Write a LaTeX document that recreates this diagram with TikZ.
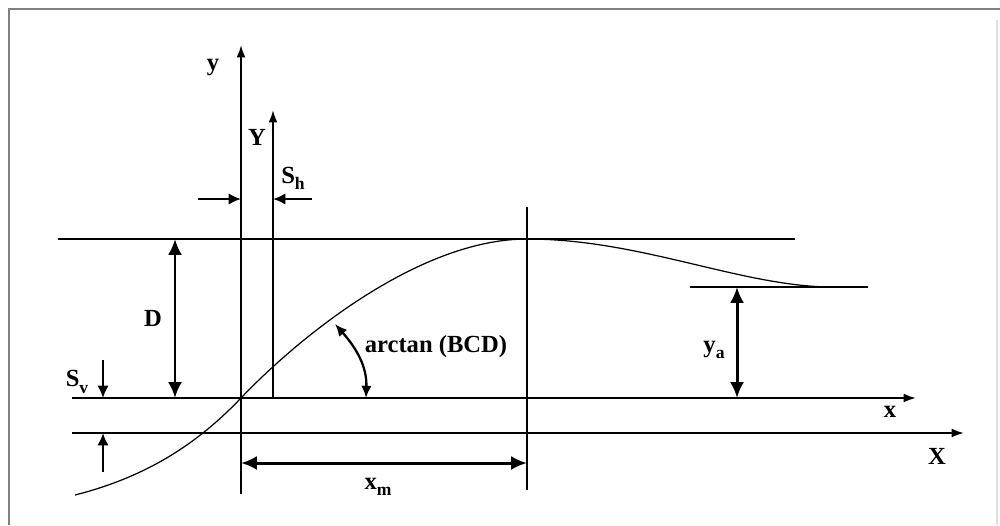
\documentclass[tikz,border=0pt]{standalone}
\usepackage{fontspec}
\setmainfont{Liberation Serif}
\usetikzlibrary{arrows.meta}
\newcommand{\lowsub}[1]{\raisebox{-0.55ex}{\fontsize{10}{12}\selectfont #1}}
\tikzset{
  >={Latex[length=7,width=5]},
  % assi e linee
  axis/.style={line width=1.1pt,->},
  guide/.style={line width=0.8pt},
  % quote
  dim/.style={line width=1.7pt,{Latex[length=9,width=8]}-{Latex[length=9,width=8]}},
  dim end/.style={line width=1.5pt,-{Latex[length=7,width=6.5]}},
  lbl/.style={font=\bfseries\fontsize{14}{16}\selectfont,inner sep=0}
}
\begin{document}
\begin{tikzpicture}[x=0.02cm,y=-0.02cm]
  \useasboundingbox (0,0) rectangle (1000,525);
  % cornice
  \draw[gray,line width=1.2pt] (9,525) -- (9,9) -- (1000,9);
  \draw[gray!25,line width=0.6pt] (997,20) -- (997,525);
  % punti
  \coordinate (o) at (241,398);
  \coordinate (yt) at (241,45);
  \coordinate (yb) at (241,494);
  \coordinate (Yb) at (273,398);
  \coordinate (Yt) at (273,110);
  \coordinate (xl) at (72,398);
  \coordinate (xr) at (916,398);
  \coordinate (Xl) at (72,433);
  \coordinate (Xr) at (964,433);
  \coordinate (top l) at (58,239);
  \coordinate (top r) at (795,239);
  \coordinate (peak) at (527,239);
  \coordinate (mt) at (527,207);
  \coordinate (mb) at (527,490);
  \coordinate (yal) at (690,287);
  \coordinate (yar) at (868,287);
  % assi
  \draw[axis] (yb) -- (yt);
  \draw[axis] (Yb) -- (Yt);
  \draw[axis] (xl) -- (xr);
  \draw[axis] (Xl) -- (Xr);
  \draw[guide] (top l) -- (top r);
  \draw[guide] (mt) -- (mb);
  \draw[guide] (yal) -- (yar);
  % curva
  \draw[line width=0.7pt] (75,495) .. controls (150,476) and (200,441) .. (o)
    .. controls (300,336) and (420,239) .. (peak)
    .. controls (640,239) and (740,286) .. (830,287) -- (yar);
  % quote
  \draw[dim] (175,239) -- (175,398);
  \draw[dim] (737,287) -- (737,398);
  \draw[dim] (241,463) -- (527,463);
  \coordinate (sh l) at (198,199);
  \coordinate (sh r) at (312,199);
  \draw[dim end] (sh l) -- (241,199);
  \draw[dim end] (sh r) -- (273,199);
  \coordinate (sv t) at (103,360);
  \coordinate (sv b) at (103,472);
  \draw[dim end] (sv t) -- (103,398);
  \draw[dim end] (sv b) -- (103,433);
  \coordinate (ang a) at (335,324);
  \coordinate (ang b) at (366,398);
  \draw[line width=1.3pt,{Latex[length=7,width=6]}-{Latex[length=7,width=6]}]
    (ang a) .. controls (358,350) and (367,368) .. (ang b);
  % etichette
  \node[lbl] (lab y) at (213,68) {y};
  \node[lbl] (lab Y) at (257,137) {Y};
  \node[lbl] (lab sh) at (293,178) {S\lowsub{h}};
  \node[lbl] (lab D) at (153,318) {D};
  \node[lbl] (lab sv) at (77,382) {S\lowsub{v}};
  \node[lbl] (lab ang) at (436,347) {arctan (BCD)};
  \node[lbl] (lab ya) at (714,350) {y\lowsub{a}};
  \node[lbl] (lab x) at (890,412) {x};
  \node[lbl] (lab X) at (937,456) {X};
  \node[lbl] (lab xm) at (378,487) {x\lowsub{m}};
\end{tikzpicture}
\end{document}
